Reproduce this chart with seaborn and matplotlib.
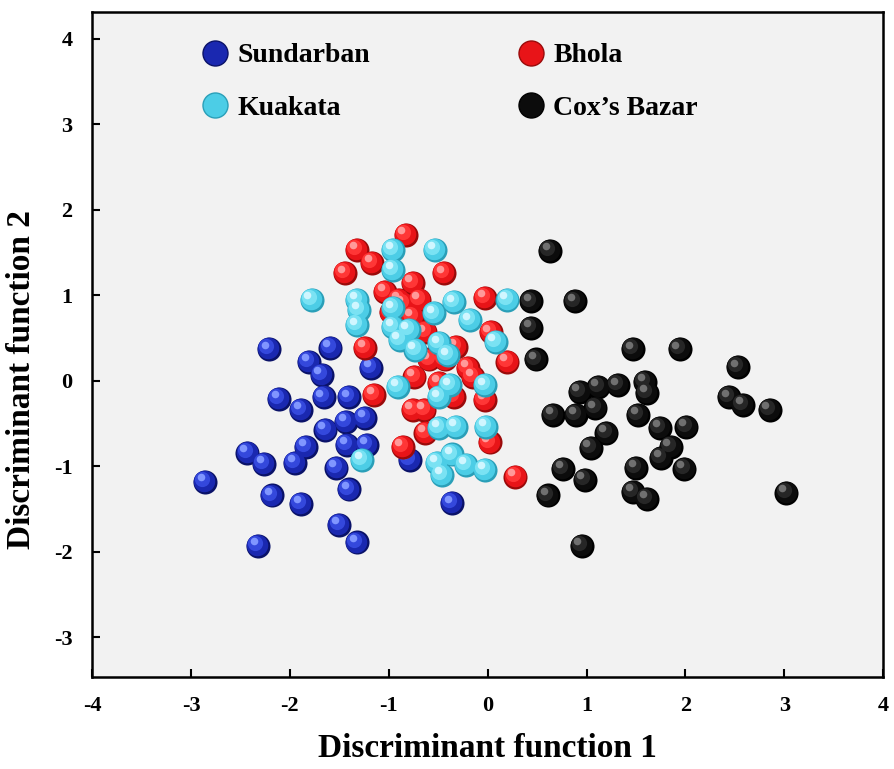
import numpy as np
import pandas as pd
import matplotlib
matplotlib.use("Agg")
import matplotlib.pyplot as plt
import matplotlib.transforms as mtransforms
from matplotlib.lines import Line2D
import seaborn as sns

# ---------------- data ----------------
sundarban_x = [-2.21, -1.59, -1.81, -1.68, -1.18, -2.11, -1.89, -1.66, -1.40, -1.24,
               -1.43, -1.64, -1.84, -2.43, -2.26, -1.95, -1.42, -1.22, -1.53, -2.86,
               -2.18, -1.89, -1.40, -1.50, -2.32, -1.32, -0.79, -0.36]
sundarban_y = [0.37, 0.39, 0.22, 0.07, 0.15, -0.21, -0.34, -0.19, -0.19, -0.43,
               -0.48, -0.57, -0.77, -0.84, -0.97, -0.96, -0.75, -0.75, -1.02, -1.18,
               -1.34, -1.44, -1.27, -1.68, -1.93, -1.89, -0.92, -1.43]

coxs_x = [0.63, 0.44, 0.88, 0.44, 0.49, 1.47, 1.94, 2.53, 2.44, 2.58,
          2.85, 0.93, 1.12, 1.32, 1.59, 1.61, 0.66, 0.89, 1.09, 1.52,
          1.74, 2.01, 1.20, 1.04, 1.85, 1.75, 1.99, 0.76, 0.98, 1.50,
          0.61, 1.47, 1.61, 3.02, 0.95]
coxs_y = [1.52, 0.93, 0.93, 0.62, 0.25, 0.37, 0.37, 0.16, -0.19, -0.28,
          -0.34, -0.13, -0.07, -0.05, -0.01, -0.14, -0.40, -0.40, -0.32, -0.40,
          -0.55, -0.54, -0.61, -0.78, -0.77, -0.90, -1.03, -1.03, -1.16, -1.02,
          -1.34, -1.30, -1.38, -1.31, -1.93]

bhola_x = [-0.83, -1.32, -1.17, -1.44, -0.44, -0.76, -1.04, -0.90, -0.69, -0.03,
           -0.76, -0.63, 0.03, -0.32, -1.24, -0.59, -0.43, 0.20, -0.74, -0.15,
           -0.49, -1.15, -0.34, -0.03, -0.76, -0.64, -0.63, -0.86, 0.02, 0.28,
           -0.85, -0.98, -0.20]
bhola_y = [1.71, 1.53, 1.38, 1.26, 1.26, 1.15, 1.04, 0.95, 0.95, 0.97,
           0.75, 0.57, 0.57, 0.40, 0.39, 0.25, 0.25, 0.22, 0.05, 0.05,
           -0.02, -0.16, -0.19, -0.22, -0.34, -0.34, -0.61, -0.77, -0.72, -1.12,
           0.90, 0.80, 0.15]

kuakata_x = [-0.96, -0.53, -0.96, -1.78, -1.32, 0.20, -0.34, -1.30, -0.54, -0.96,
             -0.18, -1.32, -0.96, -0.89, -0.49, 0.08, -0.73, -0.91, -0.03, -0.49,
             -0.38, -0.49, -0.32, -0.02, -0.36, -0.51, -0.22, -0.03, -0.46, -1.27,
             -0.40, -0.80]
kuakata_y = [1.53, 1.53, 1.30, 0.95, 0.95, 0.95, 0.92, 0.83, 0.79, 0.85,
             0.71, 0.65, 0.63, 0.48, 0.44, 0.46, 0.36, -0.07, -0.05, -0.19,
             -0.05, -0.55, -0.54, -0.54, -0.86, -0.96, -0.98, -1.04, -1.10, -0.92,
             0.30, 0.60]

groups = ["Sundarban", "Cox\u2019s Bazar", "Bhola", "Kuakata"]
legend_order = ["Sundarban", "Kuakata", "Bhola", "Cox\u2019s Bazar"]

frames = []
for name, xs, ys in [("Sundarban", sundarban_x, sundarban_y),
                     ("Cox\u2019s Bazar", coxs_x, coxs_y),
                     ("Bhola", bhola_x, bhola_y),
                     ("Kuakata", kuakata_x, kuakata_y)]:
    frames.append(pd.DataFrame({"DF1": xs, "DF2": ys, "Site": name}))
df = pd.concat(frames, ignore_index=True)

# sphere shading: (rim, main, light, highlight)
shades = {
    "Sundarban": ("#0a1268", "#1a28b0", "#3448dc", "#8096ff"),
    "Cox\u2019s Bazar": ("#000000", "#0c0c0c", "#262626", "#707070"),
    "Bhola": ("#9a0a0a", "#e81418", "#ff3636", "#ff9a9a"),
    "Kuakata": ("#2a9fb8", "#4ccde6", "#7ae2f3", "#d0f6ff"),
}

# ---------------- figure ----------------
sns.set_theme(style="ticks")
plt.rcParams["font.family"] = ["Liberation Serif", "DejaVu Serif"]
plt.rcParams["font.weight"] = "bold"
plt.rcParams["axes.unicode_minus"] = False
plt.rcParams["text.color"] = "black"
plt.rcParams["axes.labelcolor"] = "black"
plt.rcParams["xtick.color"] = "black"
plt.rcParams["ytick.color"] = "black"

fig = plt.figure(figsize=(8.94, 7.69), dpi=100)
ax = fig.add_axes([0.103, 0.12, 0.885, 0.864])
ax.set_facecolor("#f2f2f2")

S = 300
z = 3
for name in groups:
    sub = df[df["Site"] == name]
    rim, main, light, hi = shades[name]
    layers = [(1.0, rim, 0, 0), (0.80, main, -0.6, 0.6),
              (0.40, light, -2.0, 2.0), (0.10, hi, -3.0, 3.3)]
    for frac, col, dx, dy in layers:
        tr = ax.transData + mtransforms.ScaledTranslation(dx / 72, dy / 72, fig.dpi_scale_trans)
        sns.scatterplot(data=sub, x="DF1", y="DF2", ax=ax, color=col, s=S * frac,
                        linewidth=0, legend=False, zorder=z, transform=tr)
        z += 1

ax.set_xlim(-4, 4)
ax.set_ylim(-3.46, 4.31)
ax.set_xticks(range(-4, 5))
ax.set_yticks(range(-3, 5))
ax.tick_params(direction="in", length=6, width=1.5, labelsize=16,
               top=False, right=False, pad=14, colors="black")
for lab in ax.get_xticklabels() + ax.get_yticklabels():
    lab.set_fontweight("bold")
for sp in ax.spines.values():
    sp.set_visible(True)
    sp.set_linewidth(1.8)
    sp.set_color("black")

ax.set_xlabel("Discriminant function 1", fontsize=24, fontweight="bold", labelpad=12)
ax.set_ylabel("Discriminant function 2", fontsize=24, fontweight="bold")
ax.yaxis.set_label_coords(-0.07, 0.447)

handles = [Line2D([0], [0], marker="o", linestyle="none", markersize=18,
                  markerfacecolor=shades[n][1], markeredgecolor=shades[n][0],
                  markeredgewidth=1.0, label=n) for n in legend_order]
leg = ax.legend(handles=handles, loc="upper left", bbox_to_anchor=(0.138, 0.954),
                ncol=2, frameon=False, columnspacing=5.3, handletextpad=0.3,
                handlelength=1.0, borderpad=0, borderaxespad=0,
                labelspacing=0.98, prop={"size": 20, "weight": "bold"})

fig.savefig("out.png", dpi=100, facecolor="white")
